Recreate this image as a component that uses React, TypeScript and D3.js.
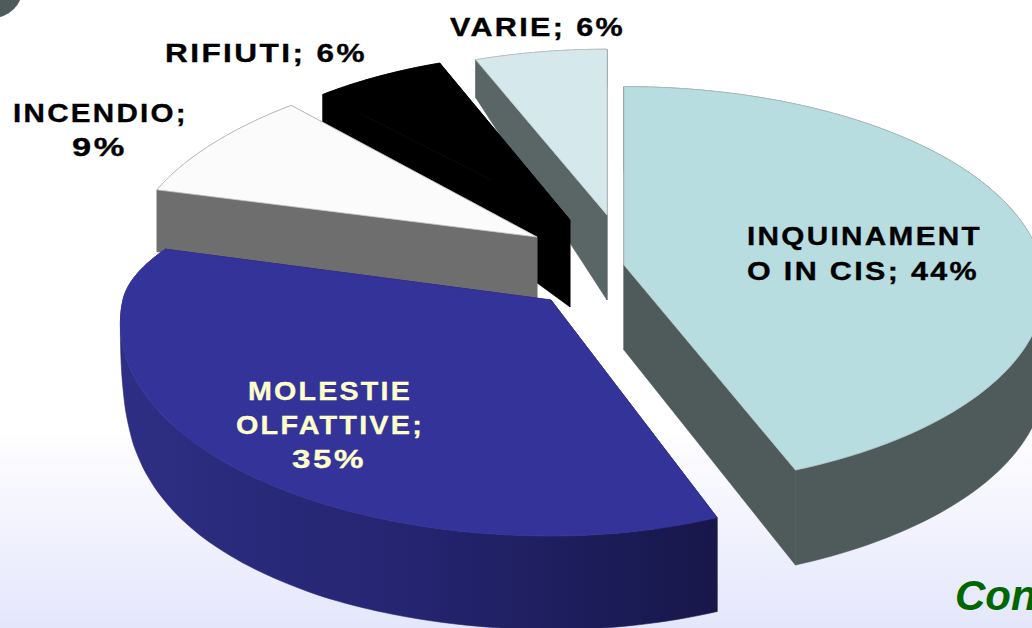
import React from 'react';
import * as d3 from 'd3';

const width = 1032;
const height = 628;

// chart values, clockwise from 12 o'clock
const categories = ['INQUINAMENTO IN CIS', 'MOLESTIE OLFATTIVE', 'INCENDIO', 'RIFIUTI', 'VARIE'];
const percents = [44, 35, 9, 6, 6];
const topColors = ['#b8dde0', '#333399', '#fbfbfb', '#000000', '#d5e8ec'];
const sideColors = ['#4f5b5b', 'url(#blueWall)', '#6e6e6e', '#000000', '#5a6666'];
const edgeColors = ['#b0c0c2', '#333399', '#c4c4c4', '#000000', '#c0cccc'];

// each exploded wedge has its own apex, radii and extrusion in the picture.
// depth is keyed on the fraction of the wedge's sweep
const wedgeLayout = [
  { ax: 624, ay: 265, rxRight: 418, rxLeft: 418, backTrim: 0, ry: 198, dApex: 85, dT: [0, 1], d: [85, 95] },
  {
    ax: 551, ay: 300, rxRight: 405, rxLeft: 428, backTrim: 0.72, ry: 210, dApex: 90,
    dT: [0, 0.4, 0.5, 0.56, 0.608, 0.65, 0.687, 0.727, 0.767, 0.806, 0.846, 1],
    d: [94, 93, 91, 89, 86, 82, 77, 69, 54, 30, 0, 0],
  },
  { ax: 537, ay: 237, rxRight: 405, rxLeft: 405, backTrim: 0.08, ry: 195, dApex: 62, dT: [0, 1], d: [62, 40] },
  { ax: 570, ay: 220, rxRight: 390, rxLeft: 390, backTrim: 0, ry: 186, dApex: 87, dT: [0, 1], d: [32, 32] },
  { ax: 607, ay: 215, rxRight: 393, rxLeft: 393, backTrim: 0, ry: 184, dApex: 85, dT: [0, 1], d: [38, 38] },
];

const labelLines = [
  { text: 'INQUINAMENT', x: 747, y: 245, w: 233, fill: '#000' },
  { text: 'O IN CIS; 44%', x: 747, y: 280, w: 230, fill: '#000' },
  { text: 'MOLESTIE', x: 248, y: 400, w: 162, fill: '#ffffcc' },
  { text: 'OLFATTIVE;', x: 236, y: 434, w: 186, fill: '#ffffcc' },
  { text: '35%', x: 292, y: 468, w: 72, fill: '#ffffcc' },
  { text: 'INCENDIO;', x: 13, y: 122, w: 173, fill: '#000' },
  { text: '9%', x: 72, y: 156, w: 53, fill: '#000' },
  { text: 'RIFIUTI; 6%', x: 165, y: 62, w: 200, fill: '#000' },
  { text: 'VARIE; 6%', x: 450, y: 36, w: 173, fill: '#000' },
];

const perspective = 0.11;

type Pt = [number, number];

function rimPoint(l: typeof wedgeLayout[number], a: number): Pt {
  const s = 1 / (1 + perspective * Math.cos(a));
  const c = Math.max(0, Math.cos(a));
  const trim = 1 - l.backTrim * c * c;
  const rx = (Math.sin(a) >= 0 ? l.rxRight : l.rxLeft) * trim;
  return [l.ax + rx * Math.sin(a) * s, l.ay - l.ry * Math.cos(a) * s];
}

const pie = d3.pie<number>().sort(null).value(d => d);
const arcs = pie(percents);
const line = d3.line();
const cornerArc = d3.arc()({ innerRadius: 0, outerRadius: 31, startAngle: 0, endAngle: Math.PI * 2 });

function Wedge({ index }: { index: number }) {
  const arc = arcs[index];
  const l = wedgeLayout[index];
  const ts = d3.range(0, 121).map(i => i / 120);
  const depthAt = d3.scaleLinear().domain(l.dT).range(l.d);
  const rim = ts.map(t => rimPoint(l, arc.startAngle + (arc.endAngle - arc.startAngle) * t));
  const rimBottom: Pt[] = rim.map((p, i) => [p[0], p[1] + depthAt(ts[i])]);
  const apex: Pt = [l.ax, l.ay];
  const apexBottom: Pt = [apex[0], apex[1] + l.dApex];
  const last = rim.length - 1;

  const fill = sideColors[index];
  const endWall: Pt[] = [apex, rim[last], rimBottom[last], apexBottom];
  const startWall: Pt[] = [apex, rim[0], rimBottom[0], apexBottom];
  const curvedWall: Pt[] = [...rim, ...rimBottom.slice().reverse()];
  const endFill = index === 1 ? '#1b1b52' : fill;
  const startFill = index === 1 ? '#16164a' : fill;

  return (
    <g>
      <path d={line(endWall) + 'Z'} fill={endFill} stroke={endFill} strokeWidth={0.6} />
      <path d={line(startWall) + 'Z'} fill={startFill} stroke={startFill} strokeWidth={0.6} />
      <path d={line(curvedWall) + 'Z'} fill={fill} stroke={fill} strokeWidth={0.6} />
      <path d={line([apex, ...rim]) + 'Z'} fill={topColors[index]} stroke={edgeColors[index]} strokeWidth={0.8} />
    </g>
  );
}

export default function App() {
  // painted from the back of the pie to the front
  const order = [4, 3, 2, 1, 0];
  return (
    <svg
      width={width}
      height={height}
      style={{ position: 'fixed', left: 0, top: 0, display: 'block' }}
      aria-label={categories.join(', ')}
    >
      <defs>
        <linearGradient id="bg" x1="0" y1="0" x2="0" y2="1">
          <stop offset="0.68" stopColor="#ffffff" />
          <stop offset="1" stopColor="#e4e6fb" />
        </linearGradient>
        <linearGradient id="blueWall" gradientUnits="userSpaceOnUse" x1="120" y1="0" x2="717" y2="0">
          <stop offset="0" stopColor="#2e2e84" />
          <stop offset="0.5" stopColor="#242470" />
          <stop offset="1" stopColor="#17174a" />
        </linearGradient>
      </defs>
      <rect width={width} height={height} fill="url(#bg)" />
      <path d={cornerArc as string} transform="translate(-8,-13)" fill="#4f5b5b" />
      {order.map(i => (
        <Wedge key={categories[i]} index={i} />
      ))}
      <g fontFamily="'Liberation Sans', Arial, sans-serif" fontWeight="bold" fontSize={26}>
        {labelLines.map(d => (
          <text
            key={d.text}
            x={d.x}
            y={d.y}
            fill={d.fill}
            stroke={d.fill}
            strokeWidth={0.35}
            letterSpacing={2}
            textLength={d.w + 2}
            lengthAdjust="spacingAndGlyphs"
          >
            {d.text}
          </text>
        ))}
      </g>
      <text
        x={955}
        y={610}
        fill="#006600"
        fontFamily="'Liberation Sans', Arial, sans-serif"
        fontWeight="bold"
        fontStyle="italic"
        fontSize={42}
      >
        Con
      </text>
    </svg>
  );
}
